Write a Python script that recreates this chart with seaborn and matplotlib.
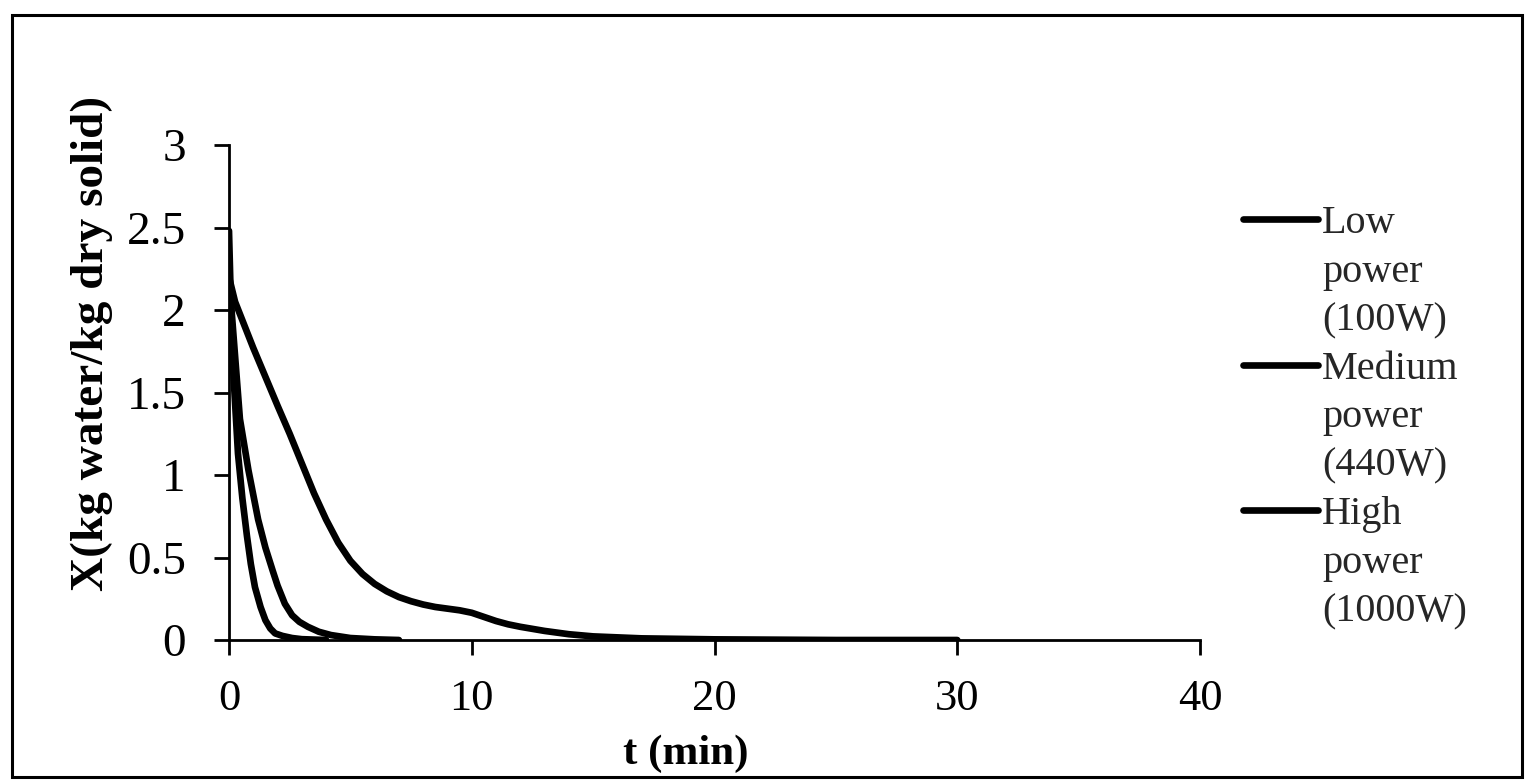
import matplotlib
matplotlib.use("Agg")
import matplotlib.pyplot as plt
import seaborn as sns
import pandas as pd
from matplotlib.lines import Line2D
from matplotlib.patches import Rectangle

# ---- data ----
t_low = [0, 0.25, 1, 2, 2.5, 3, 3.5, 4, 4.5, 5, 5.5, 6, 6.5, 7, 7.5, 8, 8.5, 9, 9.5, 10,
         10.5, 11, 11.5, 12, 13, 14, 15, 17, 20, 25, 30]
x_low = [2.2, 2.05, 1.77, 1.42, 1.25, 1.07, 0.89, 0.73, 0.59, 0.48, 0.40, 0.34, 0.295, 0.26,
         0.235, 0.215, 0.2, 0.19, 0.18, 0.165, 0.14, 0.115, 0.095, 0.08, 0.055, 0.035,
         0.022, 0.01, 0.004, 0.0, 0.0]

t_med = [0, 0.45, 0.8, 1.2, 1.5, 1.8, 2.0, 2.3, 2.6, 2.9, 3.25, 3.7, 4.2, 5, 6, 7]
x_med = [2.2, 1.34, 1.03, 0.73, 0.56, 0.42, 0.33, 0.22, 0.15, 0.11, 0.08, 0.05, 0.03,
         0.012, 0.004, 0.0]

t_high = [0, 0.05, 0.17, 0.37, 0.55, 0.74, 0.9, 1.07, 1.3, 1.5, 1.7, 1.9, 2.2, 2.6, 3, 4]
x_high = [2.48, 2.2, 1.64, 1.13, 0.86, 0.63, 0.46, 0.32, 0.2, 0.12, 0.07, 0.04, 0.025,
          0.012, 0.005, 0.0]

series_names = ["Low power (100W)", "Medium power (440W)", "High power (1000W)"]
legend_lines = [["Low", "power", "(100W)"],
                ["Medium", "power", "(440W)"],
                ["High", "power", "(1000W)"]]
x_ticks = [0, 10, 20, 30, 40]
y_ticks = [0, 0.5, 1, 1.5, 2, 2.5, 3]
y_tick_labels = ["0", "0.5", "1", "1.5", "2", "2.5", "3"]
x_label = "t (min)"
y_label = "X(kg water/kg dry solid)"

df = pd.concat([
    pd.DataFrame({"t": t_low, "X": x_low, "series": series_names[0]}),
    pd.DataFrame({"t": t_med, "X": x_med, "series": series_names[1]}),
    pd.DataFrame({"t": t_high, "X": x_high, "series": series_names[2]}),
], ignore_index=True)

sns.set_theme(style="white")
plt.rcParams["font.family"] = ["Liberation Serif", "DejaVu Serif"]

W, H = 1530, 780
fig = plt.figure(figsize=(W / 100, H / 100), dpi=100)
ax = fig.add_axes([229 / W, 1 - 640 / H, 971 / W, 495 / H])

sns.lineplot(data=df, x="t", y="X", hue="series", hue_order=series_names,
             palette=["black"] * 3, linewidth=4.8, sort=False, estimator=None,
             legend=False, ax=ax, solid_capstyle="round", solid_joinstyle="round")

ax.set_xlim(0, 40)
ax.set_ylim(0, 3)
ax.set_xticks(x_ticks)
ax.set_xticklabels([str(v) for v in x_ticks])
ax.set_yticks(y_ticks)
ax.set_yticklabels(y_tick_labels)

for s in ["top", "right"]:
    ax.spines[s].set_visible(False)
for s in ["left", "bottom"]:
    ax.spines[s].set_color("black")
    ax.spines[s].set_linewidth(2.0)

ax.tick_params(axis="both", which="major", direction="out", length=11, width=2,
               color="black", labelsize=32, labelcolor="black",
               bottom=True, left=True, top=False, right=False)
ax.tick_params(axis="y", pad=20, labelsize=34)
ax.tick_params(axis="x", pad=17)

ax.set_xlabel(x_label, fontsize=31, fontweight="bold", color="black")
ax.set_ylabel(y_label, fontsize=34, fontweight="bold", color="black")
ax.xaxis.set_label_coords((686 - 229) / 971, -0.19)
ax.yaxis.set_label_coords(-(229 - 113) / 971, 0.60)

# legend: first text line of each entry carries the line sample
handles, labels = [], []
for lines in legend_lines:
    for i, txt in enumerate(lines):
        if i == 0:
            handles.append(Line2D([], [], color="black", linewidth=4.8, solid_capstyle="round"))
        else:
            handles.append(Line2D([], [], color="none", linewidth=0))
        labels.append(txt)
leg = fig.legend(handles, labels, loc="upper left",
                 bbox_to_anchor=(1243 / W, 1 - 205 / H), bbox_transform=fig.transFigure,
                 frameon=False, fontsize=29, handlelength=1.85, handletextpad=0.12,
                 labelspacing=0.28, borderpad=0, borderaxespad=0)

# figure border
fig.patches.append(Rectangle((12 / W, 1 - 777 / H), (1522 - 12) / W, (777 - 15) / H,
                             transform=fig.transFigure, fill=False,
                             edgecolor="black", linewidth=2.2, zorder=10))

fig.savefig("out.png", dpi=100, facecolor="white")
